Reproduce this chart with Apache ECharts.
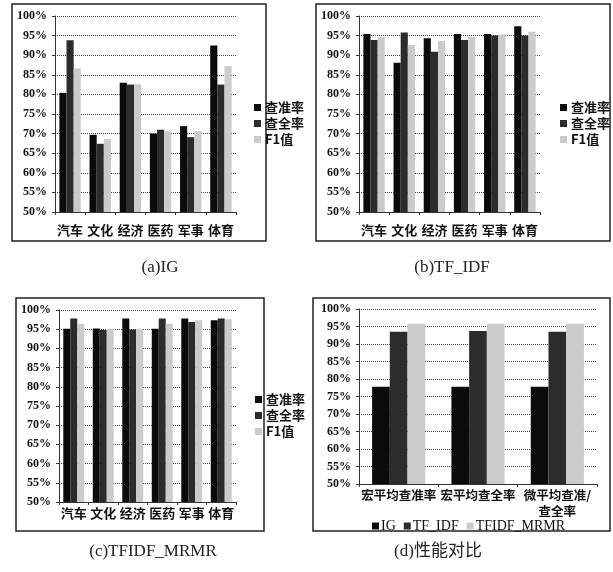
<!DOCTYPE html>
<html>
<head>
<meta charset="utf-8">
<script src="https://cdn.jsdelivr.net/npm/echarts@6/dist/echarts.min.js"></script>
<style>
  html, body { margin: 0; padding: 0; background: #fff; }
  #chart { width: 613px; height: 572px; }
</style>
</head>
<body>
<div id="chart"></div>
<script>
// Categories and values (percent)
const topics = ['汽车', '文化', '经济', '医药', '军事', '体育'];
const metricNames = ['查准率', '查全率', 'F1值'];

const igPrecision = [80.4, 69.7, 83.0, 70.0, 71.9, 92.5];
const igRecall    = [93.8, 67.4, 82.5, 71.0, 69.1, 82.5];
const igF1        = [86.6, 68.6, 82.6, 70.6, 70.6, 87.2];

const tfidfPrecision = [95.4, 88.1, 94.3, 95.4, 95.4, 97.4];
const tfidfRecall    = [93.9, 95.8, 90.9, 93.9, 95.0, 95.0];
const tfidfF1        = [94.7, 92.6, 93.6, 94.7, 95.3, 96.0];

const mrmrPrecision = [95.1, 95.2, 97.8, 95.1, 97.8, 97.3];
const mrmrRecall    = [97.8, 94.8, 94.9, 97.8, 96.9, 97.8];
const mrmrF1        = [96.4, 95.1, 95.1, 96.4, 97.3, 97.6];

const compareCats = ['宏平均查准率', '宏平均查全率', '微平均查准/\n查全率'];
const methodNames = ['IG', 'TF_IDF', 'TFIDF_MRMR'];
const cmpIG    = [77.8, 77.8, 77.8];
const cmpTFIDF = [93.5, 93.7, 93.5];
const cmpMRMR  = [95.8, 95.8, 95.8];

const captions = ['(a)IG', '(b)TF_IDF', '(c)TFIDF_MRMR', '(d)性能对比'];
const yTicks = { min: 50, max: 100, interval: 5 };

// Styling
const cjk = '"Noto Sans CJK SC", sans-serif';
const serif = '"Liberation Serif", "Noto Sans CJK SC", serif';
const colors = ['#0b0b0b', '#2c2c2c', '#cbcbcb'];

const grids = [
  { left: 55,  top: 16,  width: 181, height: 196 },
  { left: 359, top: 16,  width: 181, height: 196 },
  { left: 59,  top: 310, width: 177, height: 192 },
  { left: 359, top: 309, width: 238, height: 175 }
];

function yAxisFor(i) {
  return {
    type: 'value', gridIndex: i,
    min: yTicks.min, max: yTicks.max, interval: yTicks.interval,
    axisLabel: { formatter: '{value}%', fontFamily: serif, fontSize: 12, fontWeight: 'bold', color: '#111', margin: 8 },
    axisLine: { show: true, lineStyle: { color: '#333', width: 1 } },
    axisTick: { show: true, length: 3, lineStyle: { color: '#333' } },
    splitLine: { show: true, lineStyle: { color: '#444', type: 'dotted', width: 1 } }
  };
}

function xAxisFor(i, cats, margin, fontSize) {
  return {
    type: 'category', gridIndex: i, data: cats,
    axisLabel: { fontFamily: cjk, fontSize: fontSize, fontWeight: 'bold', color: '#111', margin: margin, interval: 0, lineHeight: 16 },
    axisLine: { show: true, lineStyle: { color: '#333', width: 1 } },
    axisTick: { show: true, length: 3, interval: 0, lineStyle: { color: '#333' } },
    splitLine: { show: false }
  };
}

function barSeries(name, data, idx, color, catGap) {
  return {
    type: 'bar', name: name, data: data,
    xAxisIndex: idx, yAxisIndex: idx,
    barGap: '0%', barCategoryGap: catGap,
    itemStyle: { color: color },
    emphasis: { disabled: true }
  };
}

const panelData = [
  [igPrecision, igRecall, igF1],
  [tfidfPrecision, tfidfRecall, tfidfF1],
  [mrmrPrecision, mrmrRecall, mrmrF1]
];

const series = [];
panelData.forEach((sets, p) => {
  sets.forEach((vals, k) => series.push(barSeries(metricNames[k], vals, p, colors[k], '29%')));
});
[cmpIG, cmpTFIDF, cmpMRMR].forEach((vals, k) =>
  series.push(barSeries(methodNames[k], vals, 3, colors[k], '33%')));

function sideLegend(left, top) {
  return {
    data: metricNames, orient: 'vertical', left: left, top: top,
    icon: 'rect', itemWidth: 7, itemHeight: 7, itemGap: 3,
    textStyle: { fontFamily: cjk, fontSize: 13, fontWeight: 'bold', color: '#111', padding: [0, 0, 0, -1] },
    selectedMode: false
  };
}

const frames = [
  { x: 12, y: 4, w: 254, h: 237 },
  { x: 316, y: 4, w: 294, h: 237 },
  { x: 16, y: 298, w: 248, h: 233 },
  { x: 313, y: 298, w: 297, h: 233 }
];
const captionPos = [
  { x: 160, y: 268 }, { x: 452, y: 268 },
  { x: 153, y: 552 }, { x: 438, y: 552 }
];

const graphic = [];
frames.forEach(f => graphic.push({
  type: 'rect', shape: { x: f.x, y: f.y, width: f.w, height: f.h },
  style: { fill: 'none', stroke: '#222', lineWidth: 1.5 }, silent: true
}));
captions.forEach((t, i) => graphic.push({
  type: 'text', x: captionPos[i].x, y: captionPos[i].y,
  style: { text: t, fill: '#222', font: '17px ' + serif, align: 'center', verticalAlign: 'middle' },
  silent: true
}));

const option = {
  animation: false,
  backgroundColor: '#fff',
  grid: grids,
  xAxis: [
    xAxisFor(0, topics, 10, 13),
    xAxisFor(1, topics, 10, 13),
    xAxisFor(2, topics, 3, 13),
    xAxisFor(3, compareCats, 3, 12.5)
  ],
  yAxis: [yAxisFor(0), yAxisFor(1), yAxisFor(2), yAxisFor(3)],
  legend: [
    sideLegend(249, 96),
    sideLegend(555, 96),
    sideLegend(250, 388),
    {
      data: methodNames, orient: 'horizontal', left: 367, top: 514,
      icon: 'rect', itemWidth: 7, itemHeight: 7, itemGap: 8,
      textStyle: { fontFamily: serif, fontSize: 14, color: '#111', padding: [0, 0, 0, -3] },
      selectedMode: false
    }
  ],
  series: series,
  graphic: graphic
};

const chart = echarts.init(document.getElementById('chart'), null, { renderer: 'canvas' });
chart.setOption(option);
</script>
</body>
</html>
